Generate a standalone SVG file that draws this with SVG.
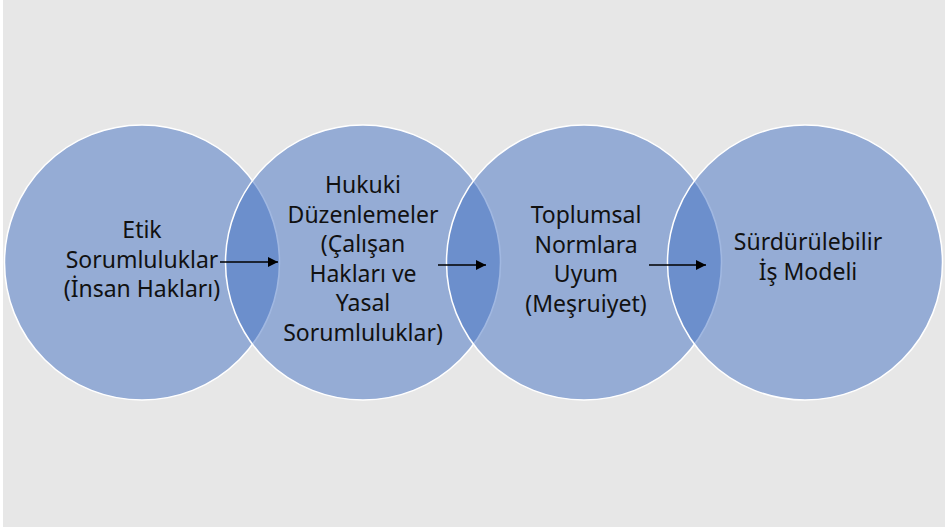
<svg xmlns="http://www.w3.org/2000/svg" width="945" height="531" viewBox="0 0 945 531">
  <defs>
    <style>
      .c { fill: #4472c4; fill-opacity: 0.5; stroke: #ffffff; stroke-width: 1.5; }
      .t { font-family: "Noto Sans", "Open Sans", "Liberation Sans", sans-serif; font-size: 23px; fill: #111111; text-anchor: middle; }
      .a { stroke: #000000; stroke-width: 1.5; fill: none; marker-end: url(#ah); }
    </style>
    <marker id="ah" viewBox="0 0 10 10" refX="10" refY="5" markerUnits="userSpaceOnUse" markerWidth="13" markerHeight="10" orient="auto">
      <path d="M0,0 L10,5 L0,10 Z" fill="#000000"/>
    </marker>
  </defs>
  <rect x="0" y="0" width="945" height="531" fill="#ffffff"/>
  <rect x="3" y="0" width="942" height="527" fill="#e7e7e7"/>

  <g id="node1">
    <circle class="c" cx="142" cy="262.5" r="137.5"/>
    <text class="t" x="142" y="238">Etik</text>
    <text class="t" x="142" y="267.5">Sorumluluklar</text>
    <text class="t" x="142" y="297">(İnsan Hakları)</text>
  </g>
  <g id="node2">
    <circle class="c" cx="363" cy="262.5" r="137.5"/>
    <text class="t" x="363" y="193">Hukuki</text>
    <text class="t" x="363" y="222.5">Düzenlemeler</text>
    <text class="t" x="363" y="252">(Çalışan</text>
    <text class="t" x="363" y="281.5">Hakları ve</text>
    <text class="t" x="363" y="311">Yasal</text>
    <text class="t" x="363" y="340.5">Sorumluluklar)</text>
  </g>
  <g id="node3">
    <circle class="c" cx="584" cy="262.5" r="137.5"/>
    <text class="t" x="586" y="223">Toplumsal</text>
    <text class="t" x="586" y="252.5">Normlara</text>
    <text class="t" x="586" y="282">Uyum</text>
    <text class="t" x="586" y="311.5">(Meşruiyet)</text>
  </g>
  <g id="node4">
    <circle class="c" cx="805" cy="262.5" r="137.5"/>
    <text class="t" x="808" y="250">Sürdürülebilir</text>
    <text class="t" x="808" y="279.5">İş Modeli</text>
  </g>

  <g id="connectors">
    <line class="a" x1="220" y1="262" x2="278" y2="262"/>
    <line class="a" x1="438" y1="265" x2="486" y2="265"/>
    <line class="a" x1="649" y1="265" x2="706" y2="265"/>
  </g>
</svg>
